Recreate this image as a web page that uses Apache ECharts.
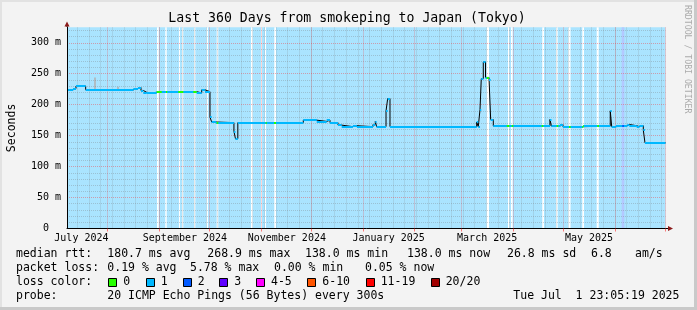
<!DOCTYPE html>
<html><head><meta charset="utf-8">
<script src="https://cdn.jsdelivr.net/npm/echarts@6/dist/echarts.min.js"></script>
<style>html,body{margin:0;padding:0;background:#f3f3f3}#c{width:697px;height:310px}</style>
</head><body><div id="c"></div>
<script>
// ---------- data ----------
const axisStart = '2024-07-07 20:40';
const axisEnd = '2025-07-01 07:00';
const yMax = 325;
const yMinorValues = [10,20,30,40,60,70,80,90,110,120,130,140,160,170,180,190,210,220,230,240,260,270,280,290,310,320];
const yMajorValues = [50,100,150,200,250,300];
const yLabelValues = [0,50,100,150,200,250,300];
const yLabelTexts = ['0  ','50 m','100 m','150 m','200 m','250 m','300 m'];
const monthStarts = ['2024-08-01','2024-09-01','2024-10-01','2024-11-01','2024-12-01','2025-01-01','2025-02-01','2025-03-01','2025-04-01','2025-05-01','2025-06-01','2025-07-01'];
const firstWeekLine = '2024-07-14';
const monthLabelDates = ['2024-07-16 12:00','2024-09-16 12:00','2024-11-16 12:00','2025-01-16 12:00','2025-03-16 12:00','2025-05-16 12:00'];
const monthLabelNames = ['July 2024','September 2024','November 2024','January 2025','March 2025','May 2025'];

// median RTT (ms), step changes: value holds from this time until the next
const rttTimes = ['2024-07-07 20:40','2024-07-11 11:00','2024-07-13 06:00','2024-07-19 01:00','2024-08-16 14:00','2024-08-19 09:00','2024-08-21 04:00','2024-08-22 13:00','2024-08-24 14:00','2024-08-27 04:00','2024-08-30 14:00','2024-09-23 13:00','2024-09-26 13:00','2024-09-28 12:00','2024-10-01 12:00','2024-10-02 12:00','2024-10-05 02:00','2024-10-15 20:00','2024-10-16 18:00','2024-10-18 04:00','2024-11-26 09:00','2024-12-04 10:00','2024-12-10 09:00','2024-12-12 09:00','2024-12-17 04:00','2024-12-19 09:00','2024-12-26 02:00','2024-12-28 12:00','2025-01-07 03:00','2025-01-08 12:00','2025-01-09 07:00','2025-01-14 22:00','2025-01-15 22:00','2025-01-17 07:00','2025-03-10 05:00','2025-03-11 04:00','2025-03-12 05:00','2025-03-12 23:00','2025-03-14 04:00','2025-03-15 12:00','2025-03-17 14:00','2025-03-18 14:00','2025-03-20 04:00','2025-04-23 02:00','2025-04-24 00:00','2025-04-29 02:00','2025-04-30 21:00','2025-05-13 01:00','2025-05-29 05:00','2025-05-30 02:00','2025-06-01 15:00','2025-06-08 10:00','2025-06-09 15:00','2025-06-14 01:00','2025-06-15 14:00','2025-06-18 00:00','2025-06-19 00:00','2025-07-01 07:00'];
const rttValues = [224,226,230,224,226,228,223,220,219,220,221,219,224,221,180,172,171,157,145,171,175,173,175,171,167,164.5,166,164.5,168,173,164.5,190,210,164.5,172,164.5,192,242,269,244,241,176,165.5,176,165.5,168,164.5,165.5,190,164.5,166,168,166,164.5,166,159,138.4,138];

// loss colour patches on the median line
const lossStart = ['2024-08-30 14:00','2024-09-05 04:00','2024-09-12 12:00','2024-09-21 12:00','2024-10-05 12:00','2024-11-03 20:00','2024-11-08 20:00','2025-03-16 05:00','2025-03-28 05:00','2025-03-31 05:00','2025-04-18 03:00','2025-04-27 03:00','2025-05-04 12:00','2025-05-12 11:00','2025-05-21 10:00','2025-06-05 10:00'];
const lossEnd = ['2024-09-02 14:00','2024-09-05 22:00','2024-09-15 12:00','2024-09-23 13:00','2024-10-06 11:00','2024-11-04 11:00','2024-11-10 01:00','2025-03-17 14:00','2025-03-29 18:00','2025-04-01 03:00','2025-04-19 02:00','2025-04-28 02:00','2025-05-05 12:00','2025-05-13 11:00','2025-05-22 11:00','2025-06-06 10:00'];
const lossLevel = [0,0,0,0,0,0,0,0,0,0,0,0,0,0,0,2];

// smoke (spread of pings)
const smokeTimes = ['2024-07-24 08:00','2024-08-07 07:00'];
const smokeLow = [224,224];
const smokeHigh = [244,229];

// periods without data (white strips)
const gapStart = ['2024-08-30 18:00','2024-09-04 17:00','2024-09-12 22:00','2024-09-14 17:00','2024-09-21 22:00','2024-09-29 12:00','2024-10-05 12:00','2024-10-26 01:00','2024-11-01 01:00','2024-11-03 10:00','2024-11-09 00:00','2025-03-16 05:00','2025-03-28 23:00','2025-03-30 18:00','2025-04-18 12:00','2025-04-26 17:00','2025-05-04 02:00','2025-05-12 11:00','2025-05-21 02:00'];
const gapEnd = ['2024-08-31 19:00','2024-09-05 14:00','2024-09-13 13:00','2024-09-15 12:00','2024-09-22 17:00','2024-09-30 07:00','2024-10-06 11:00','2024-10-27 02:00','2024-11-01 15:00','2024-11-04 01:00','2024-11-10 01:00','2025-03-17 14:00','2025-03-29 18:00','2025-03-31 18:00','2025-04-19 13:00','2025-04-27 17:00','2025-05-05 10:00','2025-05-13 12:00','2025-05-22 07:00'];
const partialStart = ['2025-06-05 01:30'];
const partialEnd = ['2025-06-06 15:00'];

const lossNames = ['0','1','2','3','4-5','6-10','11-19','20/20'];
const lossColors = ['#26ff00','#00b8ff','#0059ff','#5e00ff','#ff00ff','#ff5500','#ff0000','#a10000'];

const titleText = 'Last 360 Days from smokeping to Japan (Tokyo)';
const row1 = [['median rtt:',16],['180.7 ms avg',107.3],['268.9 ms max',207.3],['138.0 ms min',305],['138.0 ms now',407],['26.8 ms sd',507],['6.8',591],['am/s',635]];
const row2 = [['packet loss:',16],['0.19 % avg',107.3],['5.78 % max',190],['0.00 % min',274],['0.05 % now',365]];
const row4 = [['probe:',16],['20 ICMP Echo Pings (56 Bytes) every 300s',107.3],['Tue Jul  1 23:05:19 2025',513.3]];
const lossBoxX = [108.3,145.7,182.7,219.3,256,307.3,365.7,430.7];

// ---------- build ----------
function ts(s){const [d,t='00:00']=s.split(' ');const [Y,M,D]=d.split('-').map(Number);const [h,m]=t.split(':').map(Number);return new Date(Y,M-1,D,h,m).getTime();}
const xMin = ts(axisStart), xMax = ts(axisEnd);
const T = rttTimes.map(ts);
const blackPts = T.map((t,i)=>[t,rttValues[i]]);
const horiz = [];
for(let i=0;i<T.length-1;i++) horiz.push({coords:[[T[i],rttValues[i]],[T[i+1],rttValues[i]]]});
const patches = [];
lossStart.forEach((s,k)=>{
  const a=ts(s), b=ts(lossEnd[k]);
  for(let i=0;i<T.length-1;i++){
    const lo=Math.max(a,T[i]), hi=Math.min(b,T[i+1]);
    if(hi>lo) patches.push({coords:[[lo,rttValues[i]],[hi,rttValues[i]]],lineStyle:{color:lossColors[lossLevel[k]]}});
  }
});
const smoke = smokeTimes.map((t,i)=>({coords:[[ts(t),smokeLow[i]],[ts(t),smokeHigh[i]]]}));

const gridLines = [];
const minorStyle = {color:'rgba(120,120,120,0.32)',type:[1,1],width:1};
const majorStyle = {color:'rgba(255,40,40,0.38)',type:[1,1],width:1};
yMinorValues.forEach(v=>gridLines.push({yAxis:v,lineStyle:minorStyle}));
const weekTs=[]; {const d=new Date(ts(firstWeekLine)); while(d.getTime()<xMax){weekTs.push(d.getTime()); d.setDate(d.getDate()+7);} }
weekTs.forEach(t=>gridLines.push({xAxis:t,lineStyle:minorStyle}));
yMajorValues.forEach(v=>gridLines.push({yAxis:v,lineStyle:majorStyle}));
const monthTs = monthStarts.map(ts);
monthTs.forEach(t=>gridLines.push({xAxis:t,lineStyle:majorStyle}));

const labelTs = monthLabelDates.map(ts);
const font = 'DejaVu Sans Mono';
const legendFont = '11.5px "DejaVu Sans Mono"';
const graphics = [];
graphics.push({type:'rect',shape:{x:0,y:0,width:697,height:2},style:{fill:'#e2e2e2'},silent:true});
graphics.push({type:'rect',shape:{x:0,y:0,width:2,height:310},style:{fill:'#e2e2e2'},silent:true});
graphics.push({type:'rect',shape:{x:694,y:0,width:3,height:310},style:{fill:'#c9c9c9'},silent:true});
graphics.push({type:'rect',shape:{x:0,y:307,width:697,height:3},style:{fill:'#c9c9c9'},silent:true});
graphics.push({type:'text',x:347,y:19,style:{text:titleText,font:'13.2px "DejaVu Sans Mono"',fill:'#000',textAlign:'center',textVerticalAlign:'middle'}});
graphics.push({type:'text',x:687.5,y:5,rotation:-Math.PI/2,style:{text:'RRDTOOL / TOBI OETIKER',font:'8.2px "DejaVu Sans Mono"',fill:'#ababab',textAlign:'left',textVerticalAlign:'middle'}});
graphics.push({type:'line',shape:{x1:67,y1:27,x2:67,y2:24},style:{stroke:'#000',lineWidth:1}});
graphics.push({type:'polygon',shape:{points:[[64.5,26.5],[69.5,26.5],[67,21.5]]},style:{fill:'#8b1a1a'}});
graphics.push({type:'line',shape:{x1:665.5,y1:228.5,x2:668,y2:228.5},style:{stroke:'#000',lineWidth:1}});
graphics.push({type:'polygon',shape:{points:[[668,226],[668,231],[673,228.5]]},style:{fill:'#8b1a1a'}});
row1.forEach(([t,x])=>graphics.push({type:'text',x:x,y:254.3,style:{text:t,font:legendFont,fill:'#000',textVerticalAlign:'middle'}}));
row2.forEach(([t,x])=>graphics.push({type:'text',x:x,y:268.3,style:{text:t,font:legendFont,fill:'#000',textVerticalAlign:'middle'}}));
graphics.push({type:'text',x:16,y:282.3,style:{text:'loss color:',font:legendFont,fill:'#000',textVerticalAlign:'middle'}});
lossNames.forEach((n,i)=>{
  graphics.push({type:'rect',shape:{x:Math.round(lossBoxX[i])+0.5,y:278.5,width:8,height:8},style:{fill:lossColors[i],stroke:'#000',lineWidth:1}});
  graphics.push({type:'text',x:lossBoxX[i]+15,y:282.3,style:{text:n,font:legendFont,fill:'#000',textVerticalAlign:'middle'}});
});
row4.forEach(([t,x])=>graphics.push({type:'text',x:x,y:296.3,style:{text:t,font:legendFont,fill:'#000',textVerticalAlign:'middle'}}));

const chart = echarts.init(document.getElementById('c'),null,{renderer:'canvas'});
chart.setOption({
  animation:false,
  backgroundColor:'#f3f3f3',
  grid:{left:67,right:31.5,top:27.3,bottom:81.5,containLabel:false,outerBoundsMode:'none'},
  xAxis:{type:'value',min:xMin,max:xMax,z:10,
    axisLine:{show:true,lineStyle:{color:'#000',width:1}},
    axisTick:{show:true,customValues:monthTs,length:3,lineStyle:{color:'rgba(255,40,40,0.6)'}},
    axisLabel:{customValues:labelTs,hideOverlap:false,
      formatter:(v)=>{let k=0,b=Infinity;labelTs.forEach((t,i)=>{const d=Math.abs(t-v);if(d<b){b=d;k=i;}});return monthLabelNames[k];},
      fontFamily:font,fontSize:10,color:'#000',margin:5},
    splitLine:{show:false}},
  yAxis:{type:'value',min:0,max:yMax,z:10,
    axisLine:{show:true,lineStyle:{color:'#000',width:1}},
    axisTick:{show:false},splitLine:{show:false},
    axisLabel:{customValues:yLabelValues,formatter:(v)=>{const i=yLabelValues.indexOf(v);return i>=0?yLabelTexts[i]:'';},fontFamily:font,fontSize:10,color:'#000',margin:6},
    name:'Seconds',nameLocation:'middle',nameGap:49,nameTextStyle:{fontFamily:font,fontSize:11.5,color:'#000'}},
  series:[
    {type:'line',z:1,data:[],markArea:{silent:true,itemStyle:{color:'#aae4ff'},data:[[{xAxis:xMin},{xAxis:xMax}]]}},
    {type:'line',z:2,data:[],markArea:{silent:true,itemStyle:{color:'#ffffff'},data:gapStart.map((s,i)=>[{xAxis:ts(s)},{xAxis:ts(gapEnd[i])}])}},
    {type:'line',z:2,data:[],markArea:{silent:true,itemStyle:{color:'#b3c9ff'},data:partialStart.map((s,i)=>[{xAxis:ts(s)},{xAxis:ts(partialEnd[i])}])}},
    {type:'line',z:3,data:[],markLine:{silent:true,symbol:['none','none'],label:{show:false},animation:false,data:gridLines}},
    {type:'lines',coordinateSystem:'cartesian2d',z:4,polyline:false,silent:true,lineStyle:{color:'#b0b0b0',width:1.5,opacity:1},data:smoke},
    {type:'line',z:5,step:'end',showSymbol:false,silent:true,lineStyle:{color:'#000',width:1},data:blackPts},
    {type:'lines',coordinateSystem:'cartesian2d',z:6,polyline:false,silent:true,lineStyle:{color:'#00b8ff',width:2,opacity:1},data:horiz},
    {type:'lines',coordinateSystem:'cartesian2d',z:7,polyline:false,silent:true,lineStyle:{width:2,opacity:1},data:patches}
  ],
  graphic:graphics
});
</script></body></html>
